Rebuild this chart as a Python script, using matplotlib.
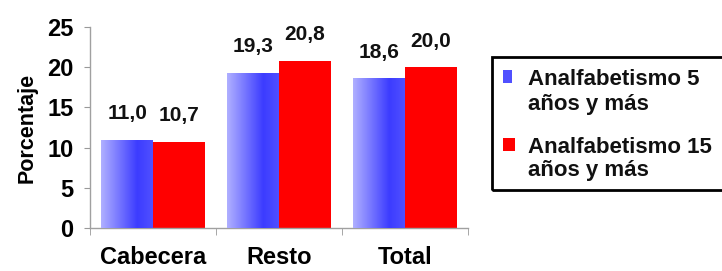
import matplotlib
matplotlib.use("Agg")
import matplotlib.pyplot as plt
import numpy as np
from matplotlib.colors import LinearSegmentedColormap
from matplotlib.patches import Rectangle

categories = ["Cabecera", "Resto", "Total"]
series_names = [["Analfabetismo 5", "años y más"], ["Analfabetismo 15", "años y más"]]
series_colors = ["#5050ff", "#ff0000"]
analf_5 = [11.0, 19.3, 18.6]
analf_15 = [10.7, 20.8, 20.0]
labels_5 = ["11,0", "19,3", "18,6"]
labels_15 = ["10,7", "20,8", "20,0"]
yticks = [0, 5, 10, 15, 20, 25]

plt.rcParams['font.family'] = ['Liberation Sans', 'DejaVu Sans']
plt.rcParams['font.weight'] = 'bold'

W, H = 722, 271
fig = plt.figure(figsize=(W/100, H/100), dpi=100)
ax = fig.add_axes([90/W, 43/H, 378/W, 201/H])

x = np.arange(len(categories))
w = 0.41
blue_bars = ax.bar(x - w/2, analf_5, width=w, color=series_colors[0], edgecolor="none", zorder=2)
red_bars = ax.bar(x + w/2, analf_15, width=w, color=series_colors[1], edgecolor="none", zorder=2)

grad_cmap = LinearSegmentedColormap.from_list(
    "bg", [(0.0, "#b0b0ff"), (0.7, "#3c3cff"), (1.0, "#5050ff")])
grad = np.linspace(0, 1, 256).reshape(1, -1)
for b in blue_bars:
    x0, y0 = b.get_x(), b.get_y()
    im = ax.imshow(grad, cmap=grad_cmap, aspect='auto',
                   extent=[x0, x0 + b.get_width(), y0, y0 + b.get_height()],
                   zorder=3)
    im.set_clip_path(b)

for bars, labels in ((blue_bars, labels_5), (red_bars, labels_15)):
    for b, t in zip(bars, labels):
        ax.annotate(t, (b.get_x() + b.get_width()/2, b.get_height()),
                    xytext=(0, 12), textcoords='offset points', ha='center', va='bottom',
                    fontsize=15, fontweight='bold', color='#111111')

ax.set_xlim(-0.5, len(categories) - 0.5)
ax.set_ylim(0, 25)
ax.set_yticks(yticks)
ax.set_yticklabels([str(v) for v in yticks], fontsize=17, fontweight='bold')
ax.set_xticks(x)
ax.set_xticklabels(categories, fontsize=17, fontweight='bold')
ax.tick_params(axis='x', which='major', length=0, pad=13)
ax.set_xticks(np.arange(-0.5, len(categories), 1.0), minor=True)
ax.tick_params(axis='x', which='minor', length=5, color='#999999', direction='out')
ax.tick_params(axis='y', length=4, color='#999999', pad=8)
for s in ['top', 'right']:
    ax.spines[s].set_visible(False)
for s in ['left', 'bottom']:
    ax.spines[s].set_color('#a0a0a0')
    ax.spines[s].set_linewidth(1)
ax.set_ylabel("Porcentaje", fontsize=15.5, fontweight='bold', labelpad=7)

# Legend drawn by hand (frame runs past the right edge as in the reference)
def fx(px):
    return px / W
def fy(py):
    return 1 - py / H

frame = Rectangle((fx(492), fy(190)), fx(760) - fx(492), fy(57) - fy(190),
                  transform=fig.transFigure, fill=False, edgecolor='black',
                  linewidth=2.0, clip_on=False)
fig.add_artist(frame)
entry_tops = [70, 138]
baselines = [(85, 110), (153, 176)]
handle_w = [9, 12]
for i, (name, col) in enumerate(zip(series_names, series_colors)):
    top = entry_tops[i]
    fig.add_artist(Rectangle((fx(503), fy(top + 13)), fx(503 + handle_w[i]) - fx(503),
                             fy(top) - fy(top + 13), transform=fig.transFigure,
                             facecolor=col, edgecolor='none'))
    for line, bl in zip(name, baselines[i]):
        fig.text(fx(528), fy(bl), line, fontsize=16, fontweight='bold',
                 ha='left', va='baseline', color='#111111')

fig.savefig("out.png", dpi=100)
